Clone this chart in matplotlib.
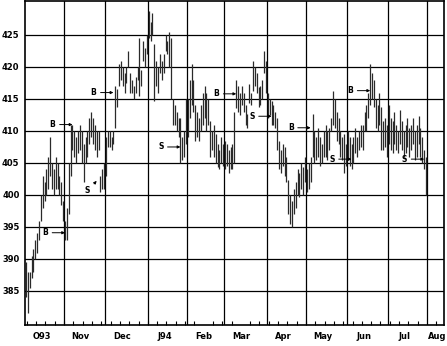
import matplotlib
matplotlib.use("Agg")
import matplotlib.pyplot as plt
import numpy as np
import pandas as pd

# daily highs / lows
oct_hi = [389.5, 388, 388, 390.5, 391.5, 393, 394, 396, 400, 403, 402, 404, 406, 409, 405, 404, 406, 405, 403, 402, 399]
oct_lo = [384, 381.5, 385.5, 387, 388, 390, 391, 393, 396, 398, 399, 400, 401, 403, 401, 400, 401, 401, 400, 398.5, 396]
nov_hi = [396, 398, 405, 411, 411, 410, 409, 410, 411, 410, 408, 409, 410, 412, 413, 412, 411, 410, 410, 403, 404, 405]
nov_lo = [393, 393, 397, 403, 407, 406, 405, 406.5, 407, 405, 402, 405, 406, 408, 409, 408, 407, 406, 407, 400.5, 401, 401]
dec_hi = [409, 410, 410, 409, 410, 417, 416.5, 420.5, 421, 420, 419, 420, 422.5, 419, 418, 417, 418.5, 420, 424.5, 419.5, 424, 423, 425]
dec_lo = [403, 407.5, 407.5, 407, 408, 410.5, 413.7, 417, 418, 417, 416, 417.5, 420, 416, 416, 415, 416, 418, 415.5, 417, 421, 420, 422]
jan_hi = [428.7, 427, 428.5, 423.6, 421, 420, 422, 421, 422, 425, 424, 425.5, 424.5, 415, 414, 413, 412, 412, 409, 410, 415]
jan_lo = [424.5, 424, 425, 414.7, 417, 416, 419, 418, 419, 422.5, 422, 420, 415, 411, 411, 410, 409, 405, 405.5, 406, 408]
feb_hi = [415, 418, 420.5, 418, 414, 413, 412, 414, 416, 417, 416, 415, 411.5, 410, 411, 409.5, 408, 407, 409, 408]
feb_lo = [409, 412, 414, 413, 408.5, 409, 408.5, 410, 411, 412, 410, 411, 406, 407, 406, 405, 404.4, 404, 405, 404.5]
mar_hi = [408.5, 408, 407, 407.5, 408, 413, 418, 417, 416, 417, 416, 414, 412.7, 417.4, 416, 421, 420, 419, 416.8, 417, 418, 422.5, 421]
mar_lo = [404, 404.5, 403.4, 404, 404, 405, 413.6, 413, 412.5, 414, 413, 411, 410.5, 414.3, 414, 416.3, 417, 416, 413.7, 414, 415, 419, 416]
apr_hi = [416, 415, 414.7, 414, 413, 412, 408.5, 407, 408, 407.5, 406, 402.3, 400, 399, 401, 402, 404, 403.5, 405, 404.4, 406]
apr_lo = [412, 412.5, 411, 411, 410.5, 407, 404, 403.5, 404.5, 403, 402, 397, 395.5, 395, 397, 398, 400, 399.7, 401, 400, 402]
may_hi = [404, 405, 406, 412.7, 410, 409, 410.5, 409, 408, 410, 411, 410, 410.5, 412, 416.3, 415, 413, 412, 410, 409, 409.6, 408]
may_lo = [400.5, 401, 402, 406, 405, 405.5, 406, 404.5, 405, 406, 406, 405.5, 407, 410, 411, 410.5, 408.5, 408, 406, 405.5, 403.4, 404.5]
jun_hi = [410, 409, 408, 409, 410.5, 409, 410, 411, 411, 413, 414, 416, 420.5, 419, 418, 415, 414, 416, 413.7, 411.6, 412, 411]
jun_lo = [405.5, 404.5, 404, 405, 406.5, 406, 407, 407.5, 407, 410, 410, 412, 414, 415, 413.7, 410.5, 410, 411, 407, 407, 407.5, 406]
jul_hi = [414, 412, 411.6, 413, 411, 410, 413.2, 411.5, 410, 411, 412, 410.5, 411, 412, 410, 411, 412.4, 410.5, 409, 407, 406]
jul_lo = [408, 407, 406.5, 408, 407, 406.5, 408, 407, 406, 406.5, 407.5, 406, 407, 408, 405.5, 406, 408, 406, 405, 404, 400]

# buy / sell signals
signal_dates = ["1993-11-01", "1993-11-05", "1993-11-24", "1993-12-07", "1994-01-26", "1994-03-09",
                "1994-04-05", "1994-05-04", "1994-06-03", "1994-06-17", "1994-07-28"]
signal_prices = [394.1, 411.0, 402.2, 416.0, 407.5, 415.8, 412.3, 410.5, 405.6, 416.3, 405.6]
signal_kinds = ["B", "B", "S", "B", "S", "B", "S", "B", "S", "B", "S"]

month_labels = ["O93", "Nov", "Dec", "J94", "Feb", "Mar", "Apr", "May", "Jun", "Jul", "Aug"]
price_ticks = [385, 390, 395, 400, 405, 410, 415, 420, 425]

highs = np.array(oct_hi + nov_hi + dec_hi + jan_hi + feb_hi + mar_hi + apr_hi + may_hi + jun_hi + jul_hi)
lows = np.array(oct_lo + nov_lo + dec_lo + jan_lo + feb_lo + mar_lo + apr_lo + may_lo + jun_lo + jul_lo)
dates = pd.bdate_range("1993-10-01", "1994-07-29")
idx = np.arange(len(dates))   # x axis runs in trading days

fig = plt.figure(figsize=(4.47, 3.46), dpi=100)
ax = fig.add_axes([0.056, 0.061, 0.937, 0.936])

ax.vlines(idx, lows, highs, color="#2a2a2a", linewidth=0.9)

# month boundaries in trading-day units
month_first = [i for i in range(1, len(dates)) if dates[i].month != dates[i - 1].month]
month_edges = [i - 0.5 for i in month_first] + [len(dates) - 0.5]
for x in month_edges:
    ax.axvline(x, color="black", linewidth=0.9, zorder=0)
for p in price_ticks:
    ax.axhline(p, color="black", linewidth=0.9, zorder=0)

ax.set_xlim(-0.5, 224.6)
ax.set_ylim(379.7, 430.3)

ax.set_yticks(price_ticks)
ax.set_yticklabels([str(p) for p in price_ticks], fontsize=6, fontweight="bold")
ax.tick_params(axis="y", length=0, pad=4)

starts = [-0.5] + month_edges
label_x = [s + 9 for s in starts[:-1]] + [starts[-1] + 5.5]
ax.set_xticks(label_x)
ax.set_xticklabels(month_labels, fontsize=6, fontweight="bold")
ax.tick_params(axis="x", length=0, pad=5)

week_starts = [i - 0.5 for i in range(1, len(dates)) if dates[i].weekday() < dates[i - 1].weekday()]
ax.set_xticks(week_starts + [len(dates) - 0.5 + 5], minor=True)
ax.tick_params(axis="x", which="minor", direction="in", length=3, width=0.8)

for sp in ax.spines.values():
    sp.set_linewidth(1.2)

# B / S markers with small arrows
for d, p, k in zip(signal_dates, signal_prices, signal_kinds):
    xi = dates.get_loc(pd.Timestamp(d))
    off = (-17, 0)
    if d == "1993-11-24":
        off = (-9, -10)
    ax.annotate(k, xy=(xi, p), xytext=off, textcoords="offset pixels",
                fontsize=5.5, fontweight="bold", ha="right" if off[1] == 0 else "center",
                va="center",
                arrowprops=dict(arrowstyle="-|>", color="black", lw=0.7,
                                mutation_scale=4, shrinkA=1, shrinkB=0))

fig.savefig("out.png", dpi=100)
